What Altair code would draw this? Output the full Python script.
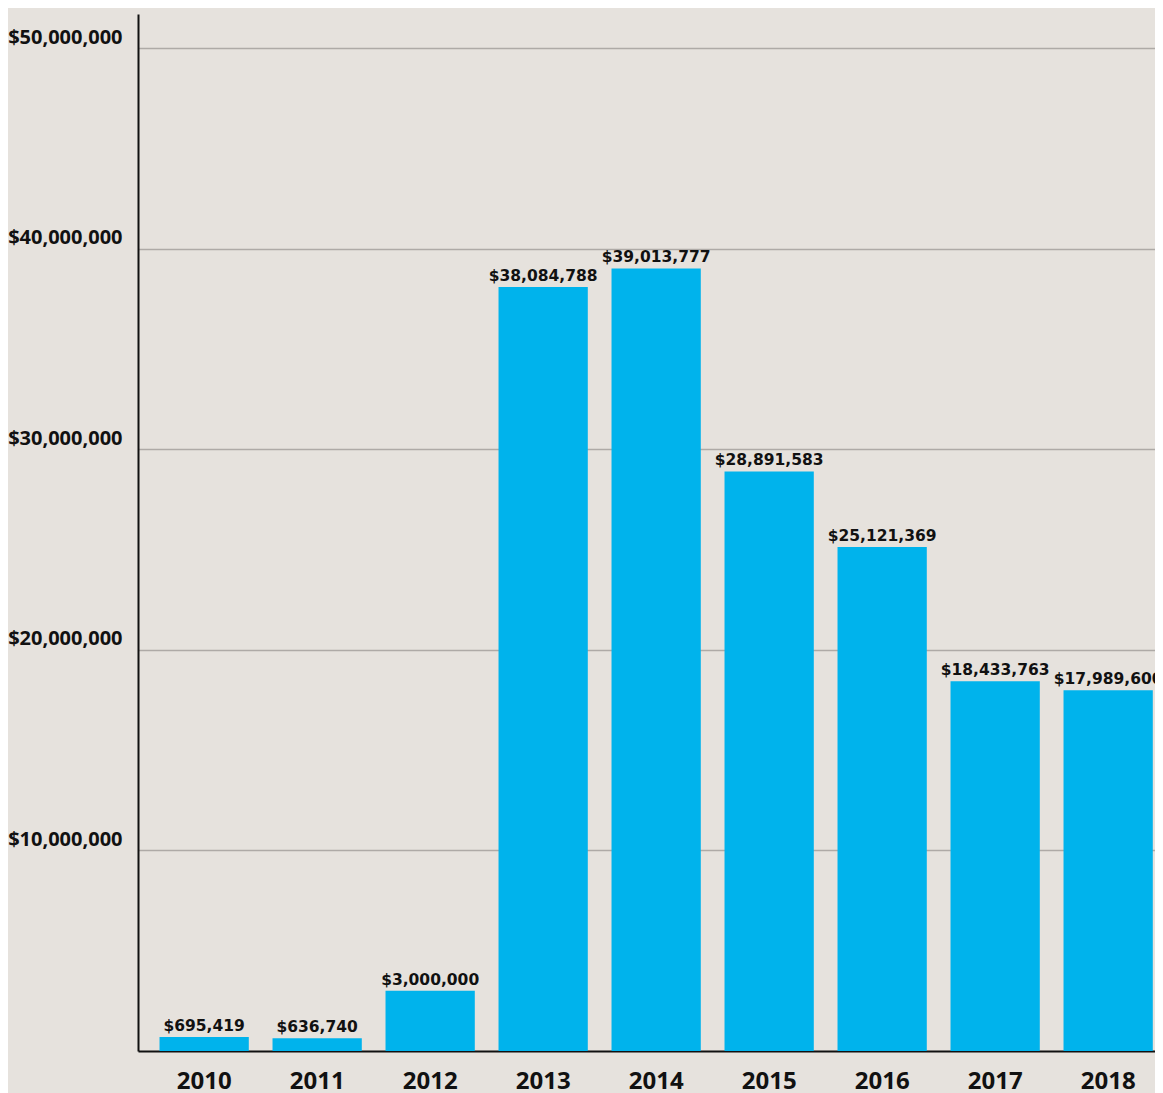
import altair as alt
import pandas as pd

years = ["2010", "2011", "2012", "2013", "2014", "2015", "2016", "2017", "2018"]
values = [695419, 636740, 3000000, 38084788, 39013777, 28891583, 25121369, 18433763, 17989600]
y_ticks = [10000000, 20000000, 30000000, 40000000, 50000000]

df = pd.DataFrame({"year": years, "value": values})

BG = "#E6E2DD"
BAR = "#00B3EC"

x_enc = alt.X(
    "year:N",
    sort=years,
    scale=alt.Scale(paddingInner=0.21, paddingOuter=0.105, align=0.907),
    axis=alt.Axis(
        title=None,
        labelAngle=0,
        labelFont="Open Sans",
        labelFontSize=24,
        labelFontWeight="bold",
        labelColor="#111111",
        labelPadding=18,
        labelBaseline="top",
        ticks=False,
        tickSize=0,
        domain=True,
        domainColor="#111111",
        domainWidth=2,
        grid=False,
    ),
)

y_enc = alt.Y(
    "value:Q",
    scale=alt.Scale(domain=[0, 51700000], nice=False, zero=True),
    axis=alt.Axis(
        title=None,
        values=y_ticks,
        format="$,d",
        labelFont="Open Sans",
        labelFontSize=20,
        labelFontWeight="bold",
        labelColor="#111111",
        labelPadding=16,
        labelBaseline="alphabetic",
        labelOffset=-5,
        ticks=False,
        tickSize=0,
        domain=True,
        domainColor="#111111",
        domainWidth=2,
        grid=True,
        gridColor="#AEAAA6",
        gridWidth=1.5,
    ),
)

base = alt.Chart(df)

bars = base.mark_bar(color=BAR).encode(x=x_enc, y=y_enc)

text = base.mark_text(
    font="DejaVu Sans",
    fontSize=15.5,
    fontWeight="bold",
    color="#111111",
    baseline="alphabetic",
    align="center",
    dy=-6,
).encode(
    x=alt.X("year:N", sort=years),
    y=alt.Y("value:Q"),
    text=alt.Text("value:Q", format="$,d"),
)

chart = (
    (bars + text)
    .properties(
        width=1017,
        height=1037,
        padding={"left": 130, "top": 6, "right": 0, "bottom": 50},
        autosize=alt.AutoSizeParams(type="none"),
        background=BG,
    )
    .configure_view(stroke=None)
)

chart.save("out.html", embed_options={"renderer": "svg", "actions": False})
